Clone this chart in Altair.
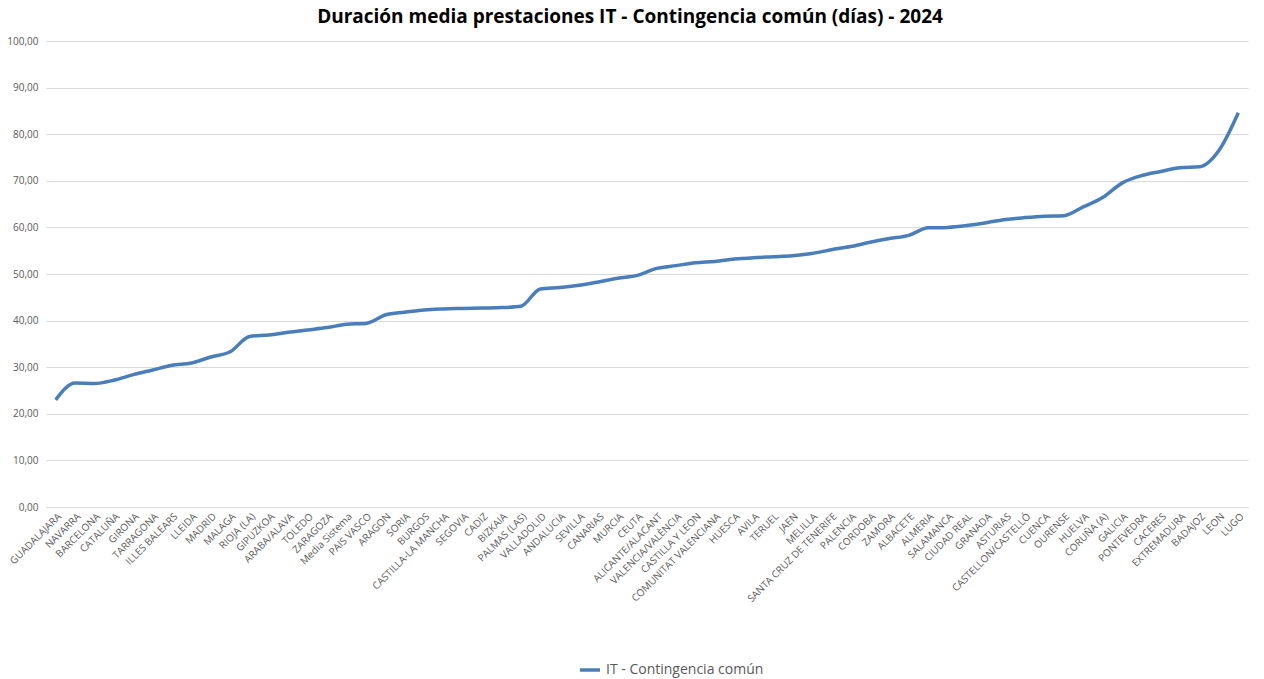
import altair as alt
import pandas as pd

categorias = [
    "GUADALAJARA", "NAVARRA", "BARCELONA", "CATALUÑA", "GIRONA", "TARRAGONA",
    "ILLES BALEARS", "LLEIDA", "MADRID", "MALAGA", "RIOJA (LA)", "GIPUZKOA",
    "ARABA/ALAVA", "TOLEDO", "ZARAGOZA", "Media Sistema", "PAIS VASCO", "ARAGON",
    "SORIA", "BURGOS", "CASTILLA-LA MANCHA", "SEGOVIA", "CADIZ", "BIZKAIA",
    "PALMAS (LAS)", "VALLADOLID", "ANDALUCIA", "SEVILLA", "CANARIAS", "MURCIA",
    "CEUTA", "ALICANTE/ALACANT", "VALENCIA/VALÈNCIA", "CASTILLA Y LEON",
    "COMUNITAT VALENCIANA", "HUESCA", "AVILA", "TERUEL", "JAEN", "MELILLA",
    "SANTA CRUZ DE TENERIFE", "PALENCIA", "CORDOBA", "ZAMORA", "ALBACETE",
    "ALMERIA", "SALAMANCA", "CIUDAD REAL", "GRANADA", "ASTURIAS",
    "CASTELLON/CASTELLÓ", "CUENCA", "OURENSE", "HUELVA", "CORUÑA (A)", "GALICIA",
    "PONTEVEDRA", "CACERES", "EXTREMADURA", "BADAJOZ", "LEON", "LUGO",
]

valores = [
    23.0, 26.6, 26.5, 27.2, 28.4, 29.4,
    30.4, 30.9, 32.2, 33.3, 36.6, 36.9,
    37.5, 38.0, 38.5, 39.2, 39.4, 41.2,
    41.8, 42.3, 42.5, 42.6, 42.7, 42.8,
    43.1, 46.8, 47.1, 47.6, 48.3, 49.1,
    49.7, 51.2, 51.8, 52.4,
    52.7, 53.2, 53.5, 53.7, 53.9, 54.4,
    55.2, 55.9, 56.8, 57.6, 58.3,
    59.9, 60.0, 60.4, 61.0, 61.7,
    62.1, 62.4, 62.5, 64.4, 66.4, 69.5,
    71.1, 72.0, 72.8, 73.0, 76.5, 84.6,
]

serie = "IT - Contingencia común"

df = pd.DataFrame({"cat": categorias, "val": valores, "serie": serie})

FONT = "Open Sans"

chart = (
    alt.Chart(df)
    .mark_line(interpolate="monotone", strokeWidth=3.5)
    .encode(
        x=alt.X(
            "cat:N",
            sort=None,
            title=None,
            axis=alt.Axis(
                labelAngle=-45,
                labelAlign="right",
                labelBaseline="top",
                labelFontSize=10,
                labelColor="#595959",
                labelFont=FONT,
                ticks=False,
                domainColor="#d9d9d9",
                labelPadding=4,
                labelOverlap=False,
                labelLimit=300,
            ),
        ),
        y=alt.Y(
            "val:Q",
            title=None,
            scale=alt.Scale(domain=[0, 100]),
            axis=alt.Axis(
                values=list(range(0, 101, 10)),
                labelExpr="replace(format(datum.value, '.2f'), '.', ',')",
                labelFontSize=10,
                labelColor="#595959",
                labelFont=FONT,
                ticks=False,
                domain=False,
                gridColor="#d9d9d9",
                labelPadding=8,
            ),
        ),
        color=alt.Color(
            "serie:N",
            scale=alt.Scale(domain=[serie], range=["#4a7ebb"]),
            legend=alt.Legend(
                title=None,
                orient="none",
                legendX=532,
                legendY=617,
                symbolType="stroke",
                symbolStrokeWidth=3.5,
                symbolSize=400,
                labelFontSize=14,
                labelColor="#595959",
                labelFont=FONT,
            ),
        ),
    )
    .properties(
        width=1202,
        height=466,
        padding={"left": 6, "top": 8, "right": 15, "bottom": 5},
        title=alt.TitleParams(
            "Duración media prestaciones IT - Contingencia común (días) - 2024",
            fontSize=19,
            fontWeight="bold",
            font=FONT,
            color="#000000",
            anchor="middle",
            dx=-17,
            offset=9,
        ),
    )
    .configure_view(stroke=None)
)

chart.save("out.html", embed_options={"renderer": "svg", "actions": False})
